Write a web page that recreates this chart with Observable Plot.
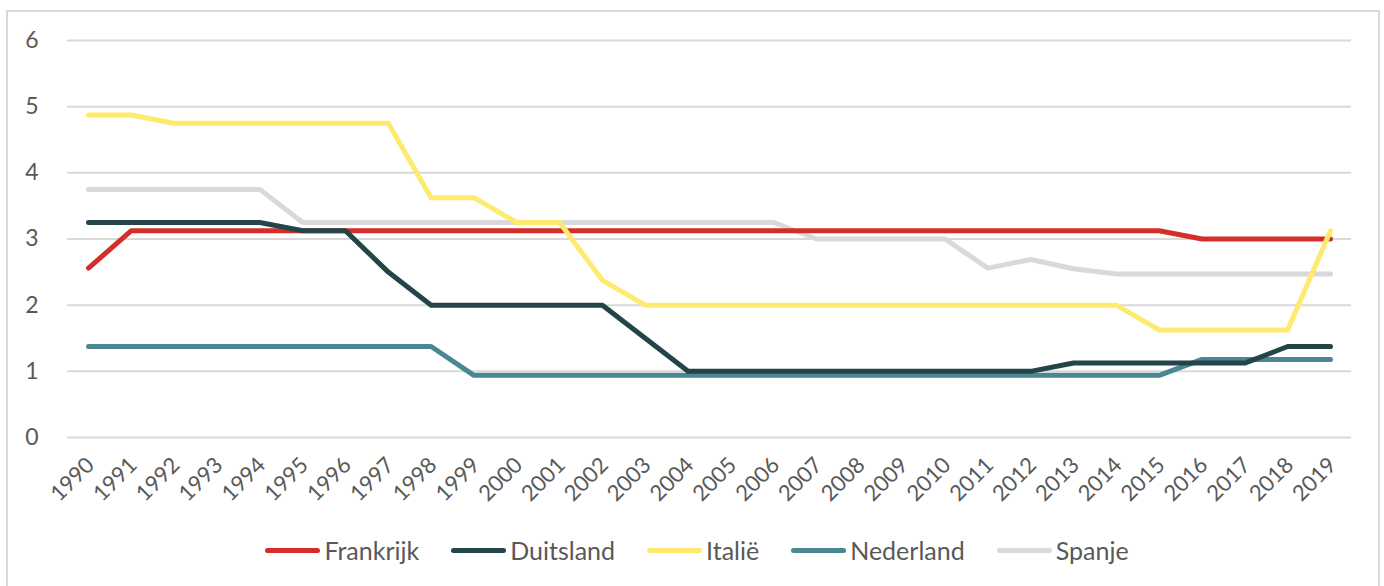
<!DOCTYPE html>
<html>
<head>
<meta charset="utf-8">
<script src="https://cdn.jsdelivr.net/npm/d3@7"></script>
<script src="https://cdn.jsdelivr.net/npm/@observablehq/plot@0.6"></script>
<style>
  html, body { margin: 0; padding: 0; background: #fff; width: 1384px; height: 586px; overflow: hidden; }
  #frame { position: absolute; left: 6px; top: 10px; width: 1374px; height: 600px; border: 2px solid #d9d9d9; box-sizing: border-box; }
  #chart { position: absolute; left: 0; top: 0; }
  #legend { position: absolute; left: 0; width: 1384px; top: 535px; display: flex; justify-content: center; align-items: center;
            font-family: Lato, "Open Sans", sans-serif; font-weight: 400; font-size: 25px; color: #595959; padding-left: 10px; box-sizing: border-box; }
  .item { display: flex; align-items: center; margin-right: 32px; }
  .item:last-child { margin-right: 0; }
  .swatch { width: 55px; height: 5px; border-radius: 3px; margin-right: 4px; }
</style>
</head>
<body>
<div id="frame"></div>
<div id="chart"></div>
<div id="legend"></div>
<script>
const years = [1990,1991,1992,1993,1994,1995,1996,1997,1998,1999,2000,2001,2002,2003,2004,2005,2006,2007,2008,2009,2010,2011,2012,2013,2014,2015,2016,2017,2018,2019];
const frankrijk = [2.56,3.125,3.125,3.125,3.125,3.125,3.125,3.125,3.125,3.125,3.125,3.125,3.125,3.125,3.125,3.125,3.125,3.125,3.125,3.125,3.125,3.125,3.125,3.125,3.125,3.125,3.0,3.0,3.0,3.0];
const duitsland = [3.25,3.25,3.25,3.25,3.25,3.125,3.125,2.5,2.0,2.0,2.0,2.0,2.0,1.5,1.0,1.0,1.0,1.0,1.0,1.0,1.0,1.0,1.0,1.125,1.125,1.125,1.125,1.125,1.375,1.375];
const italie = [4.875,4.875,4.75,4.75,4.75,4.75,4.75,4.75,3.625,3.625,3.25,3.25,2.375,2.0,2.0,2.0,2.0,2.0,2.0,2.0,2.0,2.0,2.0,2.0,2.0,1.625,1.625,1.625,1.625,3.125];
const nederland = [1.375,1.375,1.375,1.375,1.375,1.375,1.375,1.375,1.375,0.94,0.94,0.94,0.94,0.94,0.94,0.94,0.94,0.94,0.94,0.94,0.94,0.94,0.94,0.94,0.94,0.94,1.18,1.18,1.18,1.18];
const spanje = [3.75,3.75,3.75,3.75,3.75,3.25,3.25,3.25,3.25,3.25,3.25,3.25,3.25,3.25,3.25,3.25,3.25,3.0,3.0,3.0,3.0,2.56,2.69,2.55,2.47,2.47,2.47,2.47,2.47,2.47];
const yTicks = [0,1,2,3,4,5,6];

const seriesNames = ["Frankrijk","Duitsland","Italië","Nederland","Spanje"];
const seriesColors = ["#d42e2b","#234449","#fdea6f","#4a8793","#d9d9d9"];
const seriesValues = [frankrijk, duitsland, italie, nederland, spanje];
const drawOrder = ["Spanje","Frankrijk","Italië","Nederland","Duitsland"];

const rows = [];
seriesNames.forEach((name, i) => {
  years.forEach((yr, j) => rows.push({series: name, year: yr, value: seriesValues[i][j]}));
});

const font = "Lato, 'Open Sans', sans-serif";
const plot = Plot.plot({
  width: 1384,
  height: 520,
  marginLeft: 67,
  marginRight: 33,
  marginTop: 40,
  marginBottom: 83,
  style: {fontFamily: font, fontSize: "22px", fontWeight: 400, color: "#595959", background: "transparent"},
  x: {domain: [1990, 2019], range: [88, 1330]},
  y: {domain: [0, 6]},
  color: {domain: seriesNames, range: seriesColors},
  marks: [
    Plot.ruleY(yTicks, {stroke: "#d9d9d9", strokeWidth: 2}),
    Plot.axisY({ticks: yTicks, tickFormat: d => String(d), tickSize: 0, tickPadding: 29, label: null, fill: "#595959", fontSize: 23}),
    Plot.axisX({ticks: years, tickFormat: d => String(d), tickRotate: -45, tickSize: 0, tickPadding: 24, dx: 2, label: null, fill: "#595959", fontSize: 22}),
    ...drawOrder.map(name => Plot.line(rows.filter(r => r.series === name), {
      x: "year", y: "value", stroke: "series", strokeWidth: 5,
      strokeLinecap: "round", strokeLinejoin: "round"
    }))
  ]
});
document.getElementById("chart").appendChild(plot);

const legend = document.getElementById("legend");
seriesNames.forEach((name, i) => {
  const item = document.createElement("div");
  item.className = "item";
  const sw = document.createElement("div");
  sw.className = "swatch";
  sw.style.background = seriesColors[i];
  const t = document.createElement("span");
  t.textContent = name;
  item.appendChild(sw);
  item.appendChild(t);
  legend.appendChild(item);
});
</script>
</body>
</html>
